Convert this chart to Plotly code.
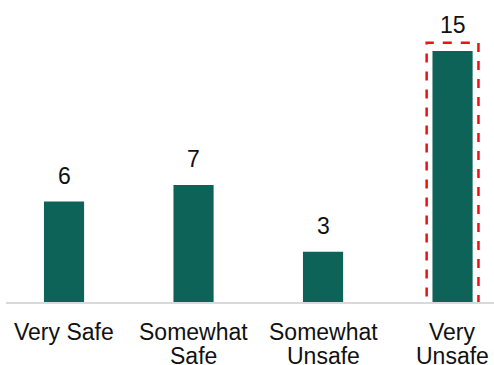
import plotly.graph_objects as go

label_line1 = ["Very Safe", "Somewhat", "Somewhat", "Very"]
label_line2 = ["", "Safe", "Unsafe", "Unsafe"]
values = [6, 7, 3, 15]
highlight_index = 3

bar_color = "#0D6358"
font_family = "Liberation Sans, Arial, sans-serif"
text_color = "#111111"
fsize = 23

xs = list(range(len(values)))

fig = go.Figure()
fig.add_trace(go.Bar(
    x=xs,
    y=values,
    marker=dict(color=bar_color, line=dict(width=0)),
    width=0.31,
    hoverinfo="skip",
))

for i, v in enumerate(values):
    fig.add_annotation(
        x=i, y=v, text=str(v), showarrow=False,
        xanchor="center", yanchor="bottom", yshift=11,
        font=dict(family=font_family, size=fsize, color=text_color),
    )

for i, (l1, l2) in enumerate(zip(label_line1, label_line2)):
    fig.add_annotation(
        x=i, xref="x", y=0, yref="paper", text=l1, showarrow=False,
        xanchor="center", yanchor="top", yshift=-15,
        font=dict(family=font_family, size=fsize, color=text_color),
    )
    if l2:
        fig.add_annotation(
            x=i, xref="x", y=0, yref="paper", text=l2, showarrow=False,
            xanchor="center", yanchor="top", yshift=-39,
            font=dict(family=font_family, size=fsize, color=text_color),
        )

fig.add_shape(
    type="rect", xref="x", yref="y",
    x0=highlight_index - 0.2, x1=highlight_index + 0.2,
    y0=-0.25, y1=values[highlight_index] + 0.5,
    line=dict(color="#EE1111", width=2.5, dash="dash"),
    fillcolor="rgba(0,0,0,0)",
)

fig.update_layout(
    width=494, height=365,
    margin=dict(l=6, r=0, t=0, b=63),
    paper_bgcolor="white", plot_bgcolor="white",
    showlegend=False,
    font=dict(family=font_family, size=fsize, color=text_color),
    xaxis=dict(
        range=[-0.448, 3.32],
        showticklabels=False, ticks="",
        showline=True, linecolor="#D9D9D9", linewidth=1.5,
        showgrid=False, zeroline=False, automargin=False,
    ),
    yaxis=dict(
        range=[0, 18.05],
        visible=False,
        showgrid=False, zeroline=False, automargin=False,
    ),
)

fig.write_html("out.html")
